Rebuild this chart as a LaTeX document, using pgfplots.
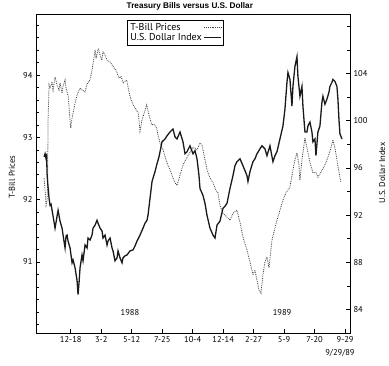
\documentclass[border=0pt]{standalone}
\usepackage{fontspec}
\setmainfont{PT Sans}
\newfontfamily\titlefont{Liberation Sans}
\usepackage{pgfplots}
\pgfplotsset{compat=1.18}
\usepackage{pgfplotstable}

\pgfplotstableread{
x y
-8.75 92.35
-8.43 92.15
-8.10 91.91
-7.77 91.99
-7.60 92.23
-7.44 93.28
-7.11 93.84
-6.79 93.79
-6.13 93.89
-5.80 93.76
-5.15 93.97
-4.49 93.84
-3.84 93.76
-3.51 93.87
-2.85 93.71
-2.52 93.82
-1.87 93.92
-1.54 93.79
-0.79 93.65
-0.39 93.36
0.00 93.15
0.43 93.31
1.41 93.55
2.07 93.68
3.05 93.79
3.70 93.76
4.69 93.73
5.34 93.86
6.33 93.92
6.98 94.08
7.41 94.21
7.97 94.40
8.30 94.27
9.05 94.43
9.60 94.32
10.16 94.24
10.60 94.37
11.25 94.32
11.90 94.24
12.89 94.21
13.87 94.14
15.08 94.05
15.84 93.95
16.49 93.98
17.25 93.87
18.36 93.92
19.11 93.73
19.77 93.60
20.52 93.52
21.41 93.44
22.16 93.39
22.72 93.10
23.38 93.28
24.92 93.52
25.67 93.36
26.56 93.20
27.30 93.21
28.20 93.15
28.62 93.04
29.28 92.91
30.26 92.80
31.57 92.59
32.56 92.48
33.54 92.35
34.20 92.27
34.85 92.23
35.84 92.39
36.82 92.56
38.13 92.68
39.11 92.76
40.10 92.84
41.41 92.80
42.39 92.91
43.05 92.88
44.03 92.64
44.69 92.48
45.67 92.35
46.66 92.27
47.64 92.15
48.30 92.11
48.95 91.91
49.93 91.78
51.25 91.72
52.23 91.67
53.21 91.78
54.52 91.83
55.51 91.64
56.49 91.40
57.80 91.19
58.79 91.00
59.77 90.79
60.43 90.87
61.08 90.71
61.74 90.55
62.39 90.50
63.05 90.79
63.70 91.00
64.36 91.08
65.02 90.91
66.00 91.35
66.66 91.48
67.64 91.67
68.62 91.83
69.61 91.99
70.59 92.11
71.90 92.20
72.89 92.48
73.54 92.64
74.20 92.75
74.85 92.56
75.18 92.31
75.84 92.64
76.82 92.99
77.48 92.83
78.46 92.60
79.44 92.43
80.43 92.44
81.08 92.36
82.07 92.44
83.38 92.56
84.36 92.68
85.34 92.83
86.00 92.96
86.66 92.83
87.31 92.64
87.97 92.44
88.62 92.28
}\tbill

\pgfplotstableread{
x y
-8.75 96.94
-8.43 97.19
-8.10 96.77
-7.93 97.19
-7.77 95.51
-7.60 94.84
-7.11 93.41
-6.79 92.82
-6.46 92.91
-5.80 91.90
-5.15 90.89
-4.49 91.90
-4.16 92.40
-3.51 91.48
-2.85 90.89
-2.52 90.30
-1.87 89.21
-1.54 90.22
-1.21 90.30
-0.89 89.80
-0.23 89.21
0.43 87.95
0.75 88.20
1.41 87.53
2.07 86.44
2.39 85.26
2.72 86.27
3.05 87.53
3.70 88.62
4.03 88.12
4.69 89.46
5.34 89.21
5.67 90.05
6.33 89.88
6.98 90.30
7.31 90.89
7.97 91.14
8.62 91.56
8.95 91.31
9.61 90.89
10.26 90.64
10.59 90.05
11.25 90.30
11.90 89.46
12.23 89.80
12.89 90.05
13.54 89.21
13.87 88.96
14.52 88.12
15.18 88.37
15.51 88.96
16.16 88.37
16.82 87.95
17.15 88.37
17.80 88.54
18.46 88.62
19.44 88.96
20.43 89.04
21.08 89.38
21.74 89.80
22.72 90.30
23.70 90.89
24.36 91.31
25.02 91.56
25.34 91.98
26.00 93.41
26.66 94.84
27.64 95.68
28.30 96.35
28.95 96.94
29.93 98.20
30.92 98.45
31.57 98.71
32.56 99.04
33.54 99.29
34.20 98.62
34.85 98.45
35.84 99.04
36.82 98.20
37.48 97.19
38.13 97.36
39.11 97.87
40.10 97.19
40.75 97.45
41.41 96.77
42.07 95.34
42.39 94.25
43.38 93.66
44.03 92.99
44.69 91.98
45.67 90.89
46.66 90.30
47.31 90.05
47.97 91.14
48.95 91.48
49.93 92.57
50.59 92.74
51.25 92.99
52.23 94.25
53.21 95.34
53.87 96.18
54.52 96.52
55.51 96.77
56.49 96.18
57.15 95.76
57.80 95.34
58.13 94.84
58.79 95.68
59.77 96.52
60.43 96.77
61.08 97.19
62.07 97.61
62.72 97.87
63.70 97.61
64.36 97.03
65.34 97.87
66.33 96.52
66.98 97.03
67.64 97.36
68.62 98.45
69.61 99.55
70.26 100.97
70.92 103.24
71.25 104.08
71.90 103.50
72.56 101.23
72.89 102.91
73.54 104.59
74.20 105.43
74.52 103.75
75.18 102.07
75.84 102.91
76.16 101.23
76.82 99.04
77.48 99.04
77.80 99.55
78.46 99.88
79.11 99.04
79.44 98.20
80.10 98.45
80.43 97.03
81.08 99.04
81.74 99.55
82.39 101.56
82.72 102.07
83.38 101.39
84.03 101.82
84.69 102.40
85.02 102.91
85.67 103.24
86.00 103.50
86.66 103.33
87.31 102.91
87.64 101.82
87.97 100.13
88.30 98.87
88.95 98.45
}\usd

\begin{document}
\begin{tikzpicture}
\pgfplotsset{
  common/.style={
    scale only axis, width=314pt, height=319pt,
    xmin=-11.4, xmax=91.6,
    tick align=inside,
    major tick length=4pt, minor tick length=3pt,
    tick style={black, line width=0.6pt},
    axis line style={line width=0.9pt},
    ticklabel style={font=\fontsize{8.5}{10}\selectfont},
    /pgf/number format/assume math mode=true,
  }
}
\begin{axis}[common,
  ymin=89.86, ymax=94.98,
  xtick={0,10,...,90},
  xticklabels={12-18,3-2,5-12,7-25,10-4,12-14,2-27,5-9,7-20,9-29},
  xtick pos=bottom,
  ytick={91,92,93,94},
  minor ytick={90,90.2,...,94.9},
  ytick pos=left,
  ylabel={T-Bill Prices},
  ylabel style={at={(axis description cs:-0.0764,0.489)}, anchor=center, font=\fontsize{8.5}{10}\selectfont},
]
\addplot[densely dotted, black!75, line width=0.8pt] table[x=x,y=y] {\tbill};
\coordinate (SW) at (rel axis cs:0,0);
\coordinate (NE) at (rel axis cs:1,1);
\end{axis}
\begin{axis}[common,
  ymin=82, ymax=109.04,
  axis x line=none,
  axis y line*=right,
  clip=false,
  ytick={84,88,...,104},
  minor ytick={82,84,...,108},
  ylabel={U.S. Dollar Index},
  ylabel style={at={(axis description cs:1.102,0.502)}, anchor=center, font=\fontsize{8.5}{10}\selectfont},
  legend plot pos=right,
  legend style={at={(axis description cs:0.29,0.981)}, anchor=north west,
    draw=black, line width=0.7pt, font=\fontsize{10}{11}\selectfont,
    inner sep=1pt, row sep=-2.5pt, cells={anchor=west}},
]
\addlegendimage{densely dotted, black!75, line width=0.8pt}
\addlegendentry{T-Bill Prices}
\addplot[black!90, line width=1.3pt] table[x=x,y=y] {\usd};
\addlegendentry{U.S. Dollar Index}
\node[font=\fontsize{8.5}{10}\selectfont] at (axis cs:19.4,83.75) {1988};
\node[font=\fontsize{8.5}{10}\selectfont] at (axis cs:69.3,83.75) {1989};
\node[font=\fontsize{8.5}{10}\selectfont] at (rel axis cs:0.968,-0.063) {9/29/89};
\node[anchor=base, inner sep=0pt, font=\titlefont\bfseries\fontsize{8.2}{9}\selectfont] at (rel axis cs:0.49,1.0185) {Treasury Bills versus U.S. Dollar};
\end{axis}
\pgfresetboundingbox
\path ([xshift=-36pt,yshift=-32pt]SW) rectangle ([xshift=39pt,yshift=14pt]NE);
\end{tikzpicture}
\end{document}
